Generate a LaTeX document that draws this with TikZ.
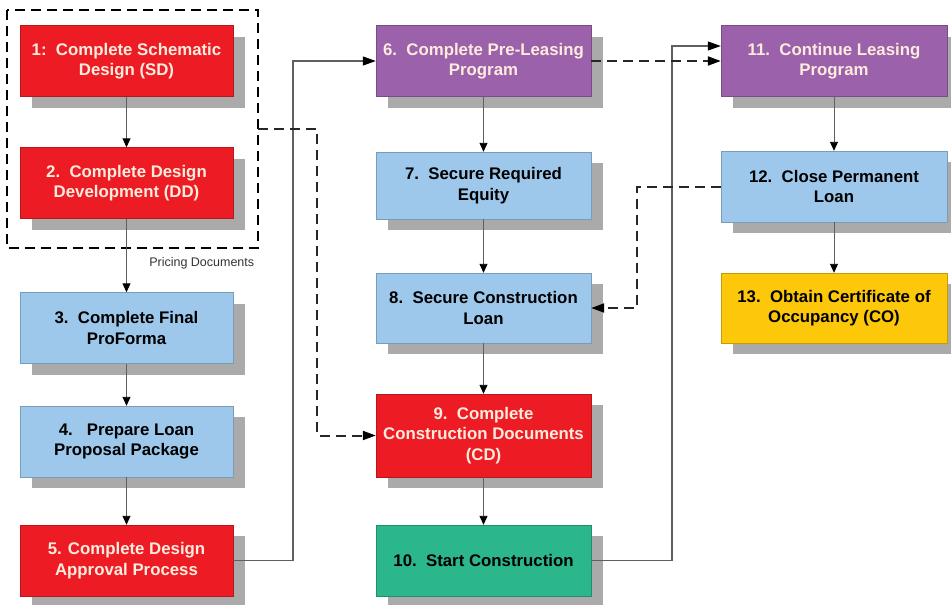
\documentclass[tikz,border=0pt]{standalone}
\usepackage{fontspec}
\setmainfont{Liberation Sans}
\usetikzlibrary{arrows.meta,shadows}
\definecolor{rouge}{RGB}{237,28,36}
\definecolor{mauve}{RGB}{155,97,170}
\definecolor{bleuclair}{RGB}{157,200,235}
\definecolor{vertd}{RGB}{44,182,140}
\definecolor{jaune}{RGB}{253,200,10}
\definecolor{ombre}{RGB}{170,170,170}
\definecolor{creme}{RGB}{253,236,222}
\definecolor{trait}{RGB}{95,95,95}
\begin{document}
\begin{tikzpicture}  % ------ Etapes du projet immobilier -----------
      [x=1pt, y=-1pt,
       etape/.style={draw=#1!78!black, fill=#1, minimum width=213pt, minimum height=71pt,
          inner sep=2pt, align=center, font=\fontsize{16.8}{20.5}\selectfont\bfseries,
          drop shadow={shadow xshift=12pt, shadow yshift=-11pt, fill=ombre, opacity=1}},
       clair/.style={text=creme},
       fleche/.style={draw=trait, line width=.9pt, -{Triangle[length=9pt,width=8pt,color=black]}},
       lien/.style={draw=trait, line width=1.1pt, -{Triangle[length=13pt,width=9pt,color=black]}},
       pointille/.style={draw=black!85, line width=2pt, dash pattern=on 10pt off 6pt,
          -{Triangle[length=13pt,width=9pt,color=black]}}]
    \useasboundingbox (0,0) rectangle (951,605);
    \node[etape=rouge, clair] (S1) at (126.5,61) {1:\ \ Complete Schematic\\Design (SD)};
    \node[etape=rouge, clair] (S2) at (126.5,183) {2.\ \ Complete Design\\Development (DD)};
    \node[etape=bleuclair] (S3) at (126.5,328) {3.\ \ Complete Final\\ProForma};
    \node[etape=bleuclair] (S4) at (126.5,441.5) {4.\ \ \ Prepare Loan\\Proposal Package};
    \node[etape=rouge, clair] (S5) at (126.5,560.5) {5. Complete Design\\Approval Process};
    \node[etape=mauve, clair, minimum width=215pt] (S6) at (483.5,61) {6.\ \ Complete Pre-Leasing\\Program};
    \node[etape=bleuclair, minimum width=215pt, minimum height=67pt] (S7) at (483.5,185.5) {7.\ \ Secure Required\\Equity};
    \node[etape=bleuclair, minimum width=215pt, minimum height=70pt] (S8) at (483.5,308) {8.\ \ Secure Construction\\Loan};
    \node[etape=rouge, clair, minimum width=215pt, minimum height=83pt] (S9) at (483.5,435.5) {9.\ \ Complete\\Construction Documents\\(CD)};
    \node[etape=vertd, minimum width=215pt] (S10) at (483.5,560.5) {10.\ \ Start Construction};
    \node[etape=mauve, clair, minimum width=226pt] (S11) at (834,61) {11.\ \ Continue Leasing\\Program};
    \node[etape=bleuclair, minimum width=226pt] (S12) at (834,186.5) {12.\ \ Close Permanent\\Loan};
    \node[etape=jaune, minimum width=226pt, minimum height=70pt] (S13) at (834,308) {13.\ \ Obtain Certificate of\\Occupancy (CO)};
    \draw[line width=2pt, dash pattern=on 10pt off 6pt] (7,10) rectangle (258,248); % SD + DD
    \coordinate (D1) at (258,129);
    \coordinate (K1) at (293,61);
    \coordinate (K2) at (317,435.5);
    \coordinate (K3) at (672,46);
    \coordinate (K4) at (637,308);
    \draw[fleche] (S1) -- (S2);
    \draw[fleche] (S2) -- (S3) node[pos=.6, right=19pt, font=\fontsize{12.5}{14}\selectfont, text=black!80] {Pricing Documents};
    \draw[fleche] (S3) -- (S4);
    \draw[fleche] (S4) -- (S5);
    \draw[fleche] (S6) -- (S7);
    \draw[fleche] (S7) -- (S8);
    \draw[fleche] (S8) -- (S9);
    \draw[fleche] (S9) -- (S10);
    \draw[fleche] (S11) -- (S12);
    \draw[fleche] (S12) -- (S13);
    \draw[lien] (S5.east) -| (K1) -- (S6.west);
    \draw[lien] (S10.east) -| (K3) -- (K3 -| S11.west);
    \draw[pointille] (D1) -| (K2) -- (S9.west);
    \draw[pointille] (S6.east) -- (S11.west);
    \draw[pointille] (S12.west) -| (K4) -- (S8.east);
\end{tikzpicture}
\end{document}
